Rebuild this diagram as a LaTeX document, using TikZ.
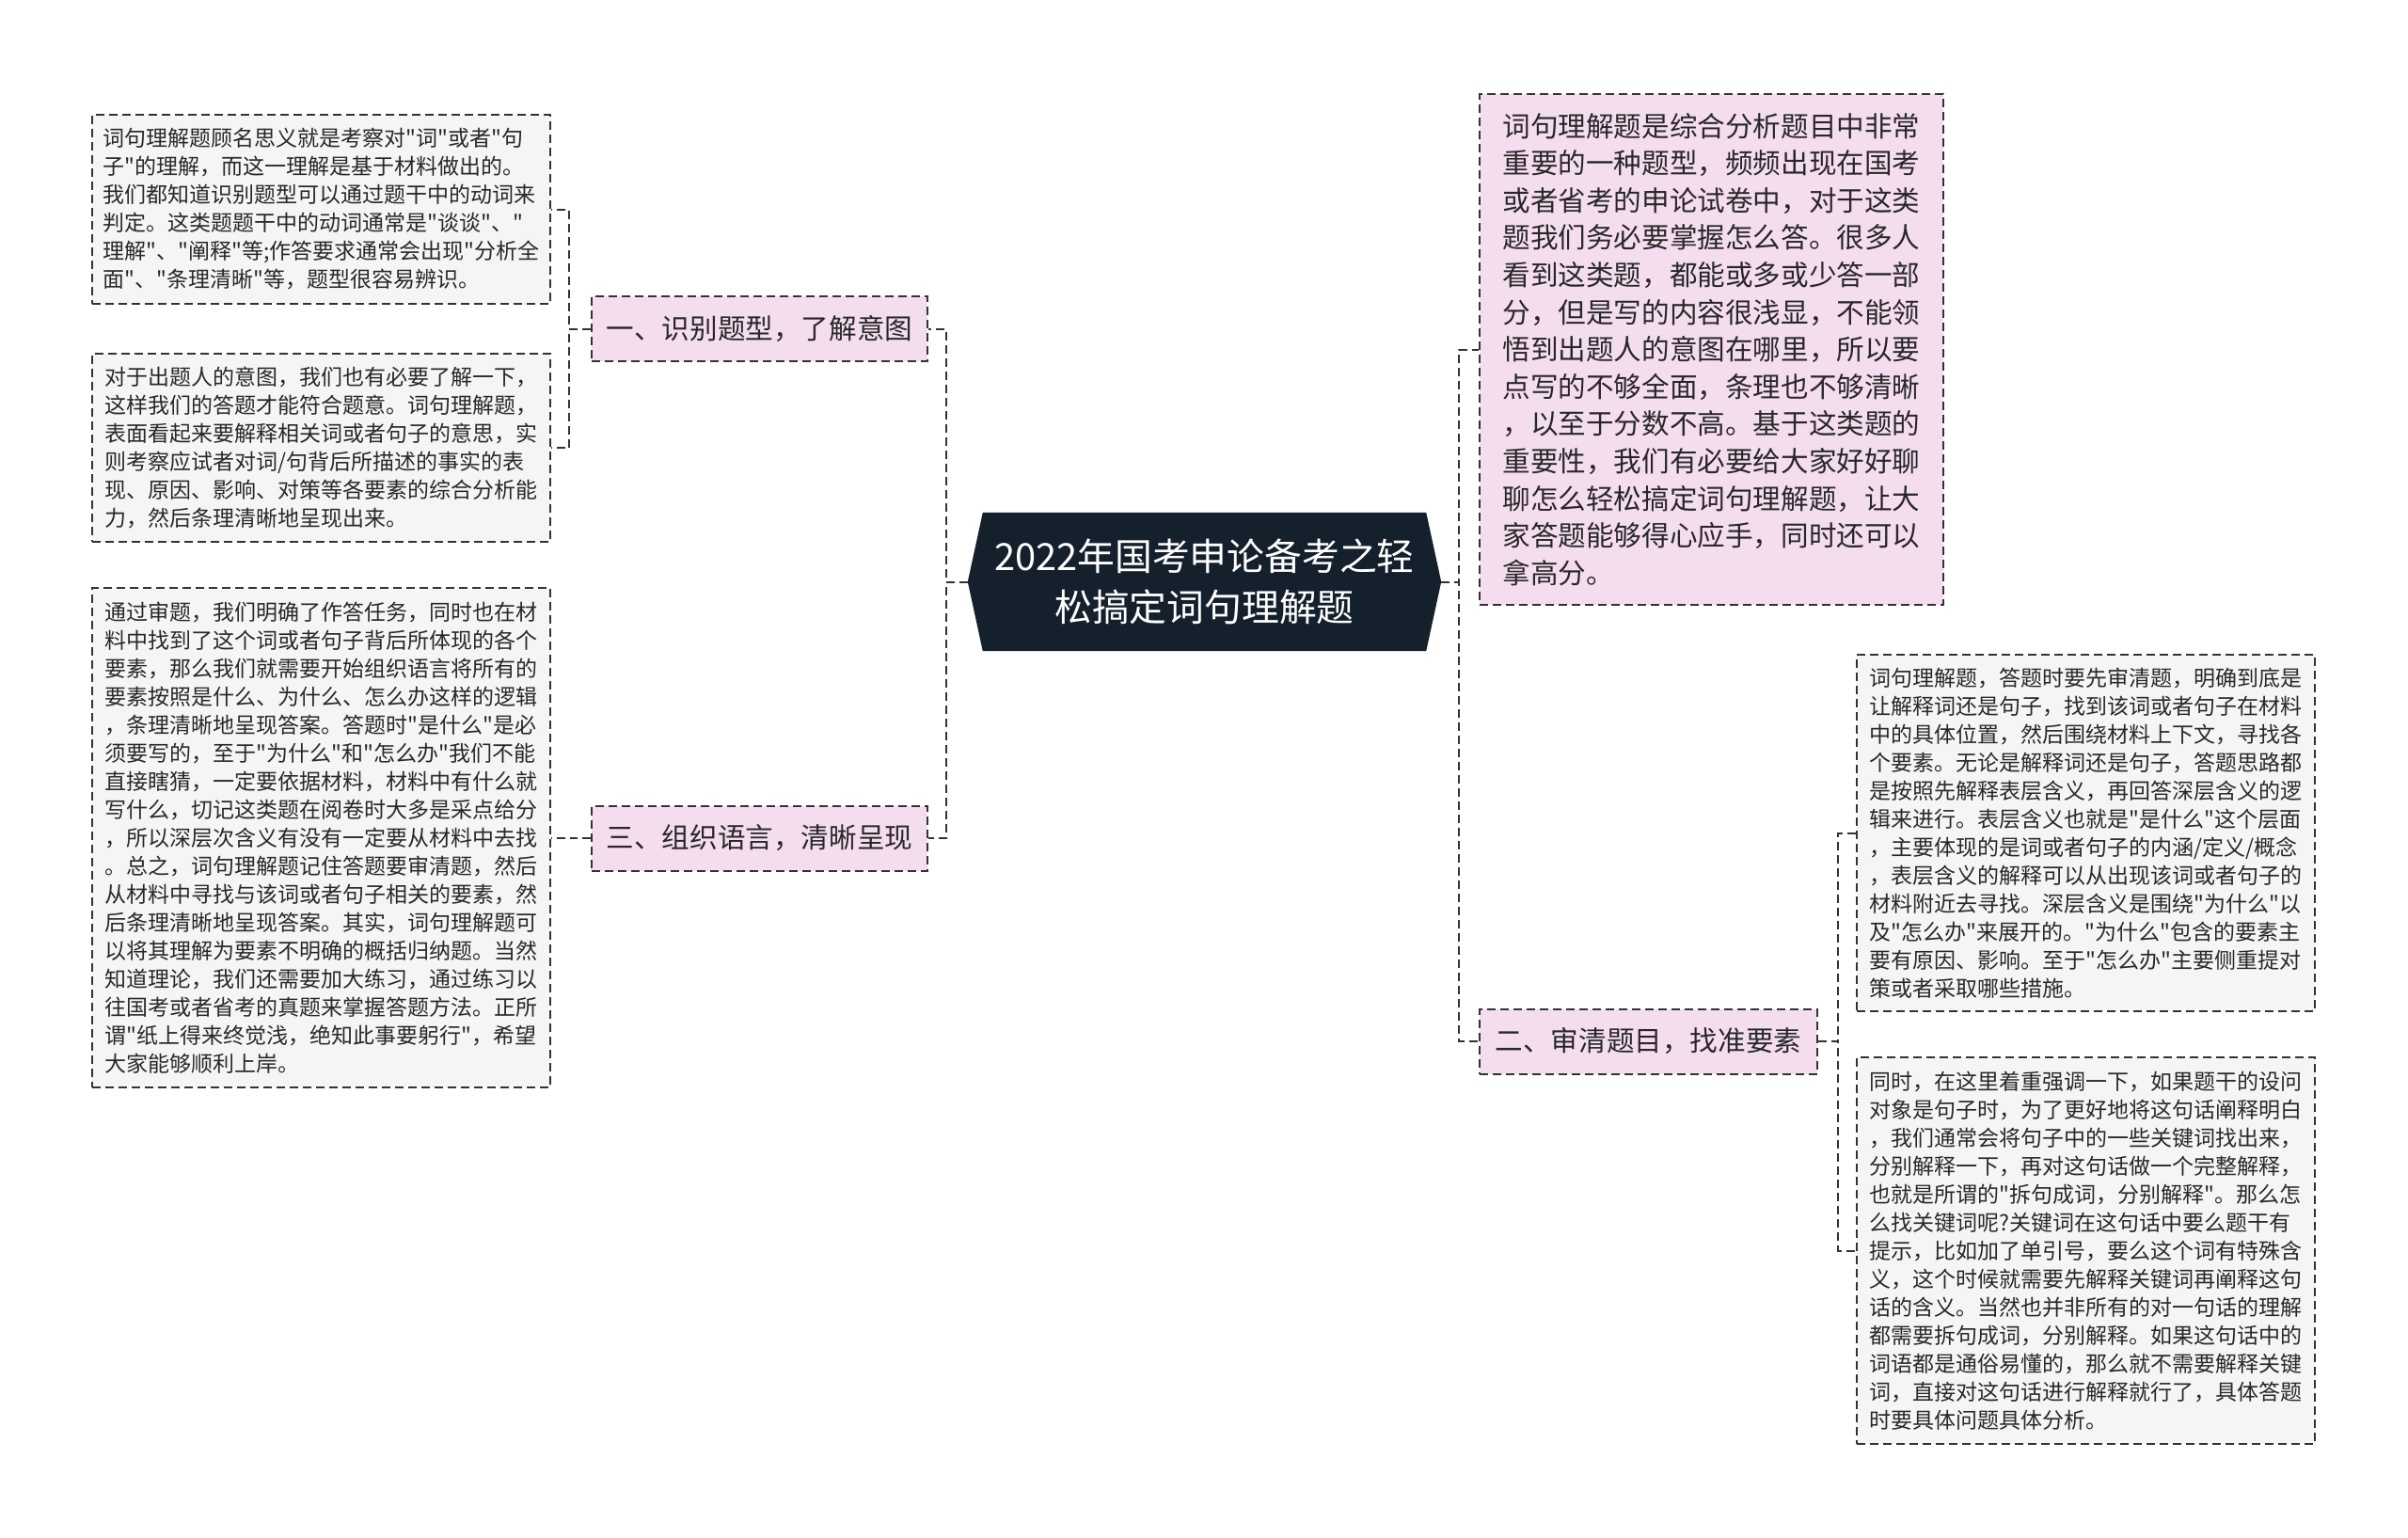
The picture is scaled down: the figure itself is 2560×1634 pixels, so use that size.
\documentclass[tikz,border=0pt]{standalone}
\usepackage{fontspec}
\setmainfont{Noto Sans CJK SC}[Ligatures=TeXOff]
\usepackage{tikz}
\usetikzlibrary{positioning,backgrounds}
\definecolor{linegray}{RGB}{51,51,51}
\definecolor{leafgray}{RGB}{245,245,245}
\definecolor{topicpink}{RGB}{245,221,240}
\definecolor{rootblue}{RGB}{21,32,45}
\definecolor{textgray}{RGB}{40,40,40}
\tikzset{leaf/.style={draw=linegray,fill=leafgray,line width=2pt,dash pattern=on 9pt off 5pt,
  align=left,inner sep=0pt,text=textgray,minimum width=487pt,font=\fontsize{23}{30}\selectfont},
  topic/.style={draw=linegray,fill=topicpink,line width=2pt,dash pattern=on 9pt off 5pt,
  align=left,inner sep=0pt,text=textgray,minimum height=69pt,font=\fontsize{29.6}{39.6}\selectfont}}
\tikzstyle{link} = [draw=linegray,line width=2pt,dash pattern=on 9pt off 5pt]

\begin{document}
\begin{tikzpicture}[x=1pt,y=-1pt,
      root/.style={align=center,text=white,inner sep=0pt,minimum width=471pt,minimum height=147pt,
        font=\fontsize{39.8}{54}\selectfont}]
    \useasboundingbox (0,0) rectangle (2560,1634);

    \node[root] (R) at (1280.5,618.5) {2022年国考申论备考之轻\\松搞定词句理解题};
    \coordinate (RL) at ([xshift=-16pt]R.west);
    \coordinate (RR) at ([xshift=16pt]R.east);

    \node[topic,minimum width=357pt] (B1) at (807.5,349.5) {一、识别题型，了解意图};
    \node[topic,minimum width=357pt] (B3) at (807.5,891) {三、组织语言，清晰呈现};
    \node[topic,minimum width=359pt] (B2) at (1752.5,1107) {二、审清题目，找准要素};
    \node[topic,minimum width=493pt,minimum height=543pt] (T) at (1819.5,371.5) {词句理解题是综合分析题目中非常\\重要的一种题型，频频出现在国考\\或者省考的申论试卷中，对于这类\\题我们务必要掌握怎么答。很多人\\看到这类题，都能或多或少答一部\\分，但是写的内容很浅显，不能领\\悟到出题人的意图在哪里，所以要\\点写的不够全面，条理也不够清晰\\，以至于分数不高。基于这类题的\\重要性，我们有必要给大家好好聊\\聊怎么轻松搞定词句理解题，让大\\家答题能够得心应手，同时还可以\\拿高分。};

    \node[leaf,minimum height=201pt] (L1) at (341.5,222.5) {词句理解题顾名思义就是考察对"词"或者"句\\子"的理解，而这一理解是基于材料做出的。\\我们都知道识别题型可以通过题干中的动词来\\判定。这类题题干中的动词通常是"谈谈"、"\\理解"、"阐释"等;作答要求通常会出现"分析全\\面"、"条理清晰"等，题型很容易辨识。};
    \node[leaf,minimum height=200pt] (L2) at (341.5,476) {对于出题人的意图，我们也有必要了解一下，\\这样我们的答题才能符合题意。词句理解题，\\表面看起来要解释相关词或者句子的意思，实\\则考察应试者对词/句背后所描述的事实的表\\现、原因、影响、对策等各要素的综合分析能\\力，然后条理清晰地呈现出来。};
    \node[leaf,minimum height=531pt] (L3) at (341.5,890.5) {通过审题，我们明确了作答任务，同时也在材\\料中找到了这个词或者句子背后所体现的各个\\要素，那么我们就需要开始组织语言将所有的\\要素按照是什么、为什么、怎么办这样的逻辑\\，条理清晰地呈现答案。答题时"是什么"是必\\须要写的，至于"为什么"和"怎么办"我们不能\\直接瞎猜，一定要依据材料，材料中有什么就\\写什么，切记这类题在阅卷时大多是采点给分\\，所以深层次含义有没有一定要从材料中去找\\。总之，词句理解题记住答题要审清题，然后\\从材料中寻找与该词或者句子相关的要素，然\\后条理清晰地呈现答案。其实，词句理解题可\\以将其理解为要素不明确的概括归纳题。当然\\知道理论，我们还需要加大练习，通过练习以\\往国考或者省考的真题来掌握答题方法。正所\\谓"纸上得来终觉浅，绝知此事要躬行"，希望\\大家能够顺利上岸。};
    \node[leaf,minimum height=379pt] (R1) at (2217.5,885.5) {词句理解题，答题时要先审清题，明确到底是\\让解释词还是句子，找到该词或者句子在材料\\中的具体位置，然后围绕材料上下文，寻找各\\个要素。无论是解释词还是句子，答题思路都\\是按照先解释表层含义，再回答深层含义的逻\\辑来进行。表层含义也就是"是什么"这个层面\\，主要体现的是词或者句子的内涵/定义/概念\\，表层含义的解释可以从出现该词或者句子的\\材料附近去寻找。深层含义是围绕"为什么"以\\及"怎么办"来展开的。"为什么"包含的要素主\\要有原因、影响。至于"怎么办"主要侧重提对\\策或者采取哪些措施。};
    \node[leaf,minimum height=411pt] (R2) at (2217.5,1329.5) {同时，在这里着重强调一下，如果题干的设问\\对象是句子时，为了更好地将这句话阐释明白\\，我们通常会将句子中的一些关键词找出来，\\分别解释一下，再对这句话做一个完整解释，\\也就是所谓的"拆句成词，分别解释"。那么怎\\么找关键词呢?关键词在这句话中要么题干有\\提示，比如加了单引号，要么这个词有特殊含\\义，这个时候就需要先解释关键词再阐释这句\\话的含义。当然也并非所有的对一句话的理解\\都需要拆句成词，分别解释。如果这句话中的\\词语都是通俗易懂的，那么就不需要解释关键\\词，直接对这句话进行解释就行了，具体答题\\时要具体问题具体分析。};

    \begin{scope}[on background layer]
      \fill[white] (0,0) rectangle (2560,1634);
      \fill[rootblue] (R.north west) -- (R.north east) -- (RR) -- (R.south east) -- (R.south west) -- (RL) -- cycle;
    \end{scope}

    \draw[link] (RL) -- ++(-23,0) |- (B1.east);
    \draw[link] (RL) -- ++(-23,0) |- (B3.east);
    \draw[link] (RR) -- ++(19,0) |- (T.west);
    \draw[link] (RR) -- ++(19,0) |- (B2.west);
    \draw[link] (B1.west) -- ++(-23,0) |- (L1.east);
    \draw[link] (B1.west) -- ++(-23,0) |- (L2.east);
    \draw[link] (B3.west) -- ++(-21,0) |- (L3.east);
    \draw[link] (B2.east) -- ++(21,0) |- (R1.west);
    \draw[link] (B2.east) -- ++(21,0) |- (R2.west);
\end{tikzpicture}
\end{document}
